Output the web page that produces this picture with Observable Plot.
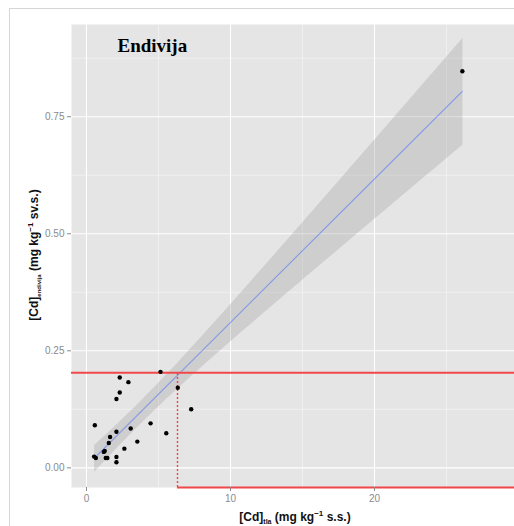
<!DOCTYPE html>
<html>
<head>
<meta charset="utf-8">
<script src="https://cdn.jsdelivr.net/npm/d3@7"></script>
<script src="https://cdn.jsdelivr.net/npm/@observablehq/plot@0.6"></script>
<style>
  html, body { margin: 0; padding: 0; background: #fff; overflow: hidden; }
  #wrap { position: relative; width: 514px; height: 526px; }
  #border { position: absolute; left: 9px; top: 8px; width: 700px; height: 700px;
            border-left: 1px solid #d6d6d6; border-top: 1px solid #d6d6d6; pointer-events: none; }
  #wrap svg { position: absolute; left: 0; top: 0; }
</style>
</head>
<body>
<div id="wrap"><div id="border"></div></div>
<script>
// Data
const cdSoil = [0.58, 0.53, 0.65, 1.2, 1.27, 1.34, 1.45, 1.55, 1.64, 2.08, 2.08, 2.31, 2.31, 2.08, 2.08, 2.63, 2.91, 3.07, 3.53, 4.45, 5.14, 5.54, 6.34, 7.27, 26.1];
const cdEndive = [0.091, 0.024, 0.021, 0.034, 0.036, 0.021, 0.021, 0.053, 0.066, 0.077, 0.147, 0.161, 0.193, 0.023, 0.012, 0.041, 0.183, 0.084, 0.056, 0.095, 0.205, 0.074, 0.171, 0.125, 0.847];
const xTicks = [0, 10, 20];
const xMinor = [5, 15, 25];
const yTicks = [0, 0.25, 0.5, 0.75];
const yMinor = [0.125, 0.375, 0.625, 0.875];
const xDomain = [-1.04, 29.72];
const yDomain = [-0.042, 0.947];
const limitY = 0.203;   // horizontal red limit
const limitX = 6.32;    // vertical dotted red limit
const titleText = ["Endivija"];

const data = cdSoil.map((x, i) => ({x, y: cdEndive[i]}));
const red = "#f04848";

const svg = Plot.plot({
  width: 514,
  height: 526,
  marginLeft: 71,
  marginTop: 24,
  marginRight: 0,
  marginBottom: 39,
  style: {fontFamily: "'Liberation Sans', Arial, sans-serif", fontSize: "10px", background: "transparent"},
  x: {domain: xDomain},
  y: {domain: yDomain},
  marks: [
    Plot.frame({fill: "#e5e5e5", stroke: null}),
    Plot.gridX(xMinor, {stroke: "#f2f2f2", strokeOpacity: 1, strokeWidth: 0.8}),
    Plot.gridY(yMinor, {stroke: "#f2f2f2", strokeOpacity: 1, strokeWidth: 0.8}),
    Plot.gridX(xTicks, {stroke: "#ffffff", strokeOpacity: 1, strokeWidth: 1.1}),
    Plot.gridY(yTicks, {stroke: "#ffffff", strokeOpacity: 1, strokeWidth: 1.1}),
    Plot.linearRegressionY(data, {x: "x", y: "y", stroke: "#3366FF", strokeOpacity: 0.5, strokeWidth: 1.1, fill: "#999999", fillOpacity: 0.3}),
    Plot.ruleY([limitY], {stroke: red, strokeWidth: 2}),
    Plot.ruleY([yDomain[0]], {x1: limitX, x2: xDomain[1], stroke: red, strokeWidth: 2}),
    Plot.ruleX([limitX], {y1: yDomain[0], y2: limitY, stroke: "#ff4040", strokeOpacity: 1, strokeWidth: 1.4, strokeDasharray: "2,2"}),
    Plot.dot(data, {x: "x", y: "y", r: 2.2, fill: "black", stroke: null}),
    Plot.text(titleText, {text: d => d, frameAnchor: "top-left", dx: 46, dy: 14, lineAnchor: "top", textAnchor: "start",
      fontFamily: "'Liberation Serif', 'Times New Roman', serif", fontWeight: "bold", fontSize: 19, fill: "black"}),
    Plot.axisX(xTicks, {tickSize: 4, tickPadding: 3, label: null, color: "#8a8a8a", fontSize: 10}),
    Plot.axisY(yTicks, {tickSize: 4, tickPadding: 3, label: null, color: "#8a8a8a", fontSize: 10, tickFormat: d3.format(".2f")})
  ]
});

const s = d3.select(svg);
// x-axis label
const xl = s.append("text")
  .attr("x", 295).attr("y", 521)
  .attr("text-anchor", "middle")
  .attr("font-family", "'Liberation Sans', Arial, sans-serif")
  .attr("font-weight", "bold").attr("font-size", 12).attr("fill", "#111");
xl.append("tspan").text("[Cd]");
xl.append("tspan").attr("font-size", 7).attr("dy", 3).text("tla");
xl.append("tspan").attr("dy", -3).text(" (mg kg");
xl.append("tspan").attr("font-size", 8).attr("dy", -5).text("−1");
xl.append("tspan").attr("dy", 5).text(" s.s.)");

// y-axis label
const yl = s.append("text")
  .attr("transform", "translate(38,255) rotate(-90)")
  .attr("text-anchor", "middle")
  .attr("font-family", "'Liberation Sans', Arial, sans-serif")
  .attr("font-weight", "bold").attr("font-size", 12).attr("fill", "#111");
yl.append("tspan").text("[Cd]");
yl.append("tspan").attr("font-size", 6).attr("dy", 3).text("endivija");
yl.append("tspan").attr("dy", -3).text(" (mg kg");
yl.append("tspan").attr("font-size", 8).attr("dy", -5).text("−1");
yl.append("tspan").attr("dy", 5).text(" sv.s.)");

document.getElementById("wrap").appendChild(svg);
</script>
</body>
</html>
